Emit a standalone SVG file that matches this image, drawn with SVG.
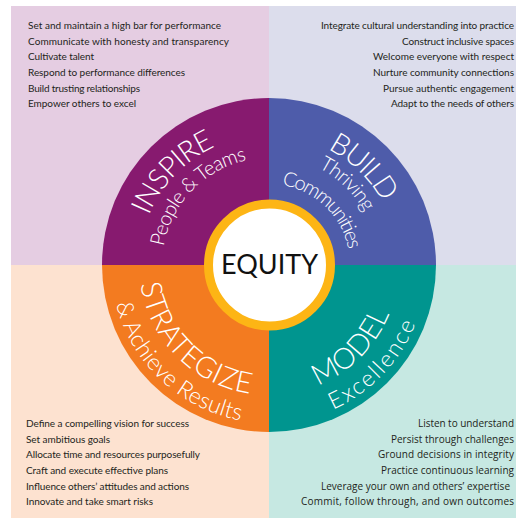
<svg xmlns="http://www.w3.org/2000/svg" width="516" height="518" viewBox="0 0 516 518">
  <defs>
    <style>
      .list { font-family: Lato, "Liberation Sans", sans-serif; font-size: 10px; fill: #231F20; }
      .list2 { font-family: "Open Sans", "Liberation Sans", sans-serif; font-size: 10px; fill: #231F20; }
      .title { font-family: Lato, "Liberation Sans", sans-serif; font-weight: 300; font-size: 29px; fill: #FFFFFF; }
      .sub { font-family: Lato, "Liberation Sans", sans-serif; font-weight: 300; font-size: 20px; fill: #FFFFFF; }
      .sub-lg { font-size: 23px; }
      .center { font-family: Lato, "Liberation Sans", sans-serif; font-size: 27px; fill: #111111; }
    </style>
    <!-- baselines for the curved labels, centred on each quadrant -->
    <path id="arcInspire" d="M141.4,289.8 A130,130 0 0 1 289.3,136.6"/>
    <path id="arcPeople" d="M164.0,285.4 A107,107 0 0 1 285.7,159.3"/>
    <path id="arcBuild" d="M244.2,137.4 A130,130 0 0 1 397.4,285.3"/>
    <path id="arcThriving" d="M248.2,158.0 A109,109 0 0 1 376.7,282.0"/>
    <path id="arcCommunities" d="M253.5,185.5 A81,81 0 0 1 349.0,277.7"/>
    <path id="arcStrategize" d="M141.0,242.4 A130,130 0 0 0 291.6,393.0"/>
    <path id="arcAchieve" d="M112.5,243.0 A158,158 0 0 0 301.8,419.5"/>
    <path id="arcModel" d="M246.4,393.0 A130,130 0 0 0 397.0,242.4"/>
    <path id="arcExcellence" d="M244.3,421.1 A158,158 0 0 0 424.1,234.9"/>
  </defs>

  <rect width="516" height="518" fill="#FFFFFF"/>

  <!-- INSPIRE quadrant -->
  <g id="inspire">
    <rect x="11" y="6" width="258" height="259" fill="#E5CDE2"/>
    <path d="M269,265 L102,265 A167,167 0 0 1 269,98 Z" fill="#871A6F"/>
    <text class="title"><textPath href="#arcInspire" startOffset="50%" text-anchor="middle" textLength="98">INSPIRE</textPath></text>
    <text class="sub"><textPath href="#arcPeople" startOffset="50%" text-anchor="middle" textLength="127">People &amp; Teams</textPath></text>
    <text class="list" x="28" y="29" textLength="193">Set and maintain a high bar for performance</text>
    <text class="list" x="28" y="45" textLength="201">Communicate with honesty and transparency</text>
    <text class="list" x="28" y="60" textLength="66">Cultivate talent</text>
    <text class="list" x="28" y="76" textLength="157">Respond to performance differences</text>
    <text class="list" x="28" y="92" textLength="112">Build trusting relationships</text>
    <text class="list" x="28" y="107" textLength="108">Empower others to excel</text>
  </g>

  <!-- BUILD quadrant -->
  <g id="build">
    <rect x="269" y="6" width="247" height="259" fill="#DCDDEC"/>
    <path d="M269,265 L269,98 A167,167 0 0 1 436,265 Z" fill="#4E5CAA"/>
    <text class="title"><textPath href="#arcBuild" startOffset="50%" text-anchor="middle" textLength="78">BUILD</textPath></text>
    <text class="sub"><textPath href="#arcThriving" startOffset="50%" text-anchor="middle" textLength="65">Thriving</textPath></text>
    <text class="sub"><textPath href="#arcCommunities" startOffset="50%" text-anchor="middle" textLength="99">Communities</textPath></text>
    <text class="list" x="514" y="29" text-anchor="end" textLength="193">Integrate cultural understanding into practice</text>
    <text class="list" x="514" y="45" text-anchor="end" textLength="112">Construct inclusive spaces</text>
    <text class="list" x="514" y="60" text-anchor="end" textLength="141">Welcome everyone with respect</text>
    <text class="list" x="514" y="76" text-anchor="end" textLength="141">Nurture community connections</text>
    <text class="list" x="514" y="92" text-anchor="end" textLength="131">Pursue authentic engagement</text>
    <text class="list" x="514" y="107" text-anchor="end" textLength="123">Adapt to the needs of others</text>
  </g>

  <!-- STRATEGIZE quadrant -->
  <g id="strategize">
    <rect x="11" y="265" width="258" height="253" fill="#FDE2D0"/>
    <path d="M269,265 L269,432 A167,167 0 0 1 102,265 Z" fill="#F37B20"/>
    <text class="title"><textPath href="#arcStrategize" startOffset="50%" text-anchor="middle" textLength="166">STRATEGIZE</textPath></text>
    <text class="sub sub-lg"><textPath href="#arcAchieve" startOffset="50%" text-anchor="middle" textLength="180">&amp; Achieve Results</textPath></text>
    <text class="list" x="26" y="427" textLength="163">Define a compelling vision for success</text>
    <text class="list" x="26" y="443" textLength="84">Set ambitious goals</text>
    <text class="list" x="26" y="458" textLength="174">Allocate time and resources purposefully</text>
    <text class="list" x="26" y="474" textLength="142">Craft and execute effective plans</text>
    <text class="list" x="26" y="490" textLength="163">Influence others’ attitudes and actions</text>
    <text class="list" x="26" y="505" textLength="127">Innovate and take smart risks</text>
  </g>

  <!-- MODEL quadrant -->
  <g id="model">
    <rect x="269" y="265" width="247" height="253" fill="#C6E8E2"/>
    <path d="M269,265 L436,265 A167,167 0 0 1 269,432 Z" fill="#00958F"/>
    <text class="title" font-size="31"><textPath href="#arcModel" startOffset="50%" text-anchor="middle" textLength="104">MODEL</textPath></text>
    <text class="sub sub-lg"><textPath href="#arcExcellence" startOffset="50%" text-anchor="middle" textLength="122">Excellence</textPath></text>
    <text class="list2" x="514" y="427" text-anchor="end" textLength="96">Listen to understand</text>
    <text class="list2" x="514" y="443" text-anchor="end" textLength="123">Persist through challenges</text>
    <text class="list2" x="514" y="458" text-anchor="end" textLength="136">Ground decisions in integrity</text>
    <text class="list2" x="514" y="474" text-anchor="end" textLength="133">Practice continuous learning</text>
    <text class="list2" x="510" y="490" text-anchor="end" textLength="189">Leverage your own and others’ expertise</text>
    <text class="list2" x="514" y="505" text-anchor="end" textLength="213">Commit, follow through, and own outcomes</text>
  </g>

  <!-- EQUITY hub -->
  <g id="equity">
    <circle cx="269.5" cy="265" r="61" fill="#FFFFFF" stroke="#FDB515" stroke-width="9"/>
    <text class="center" x="269.5" y="274" text-anchor="middle" textLength="97">EQUITY</text>
  </g>
</svg>
